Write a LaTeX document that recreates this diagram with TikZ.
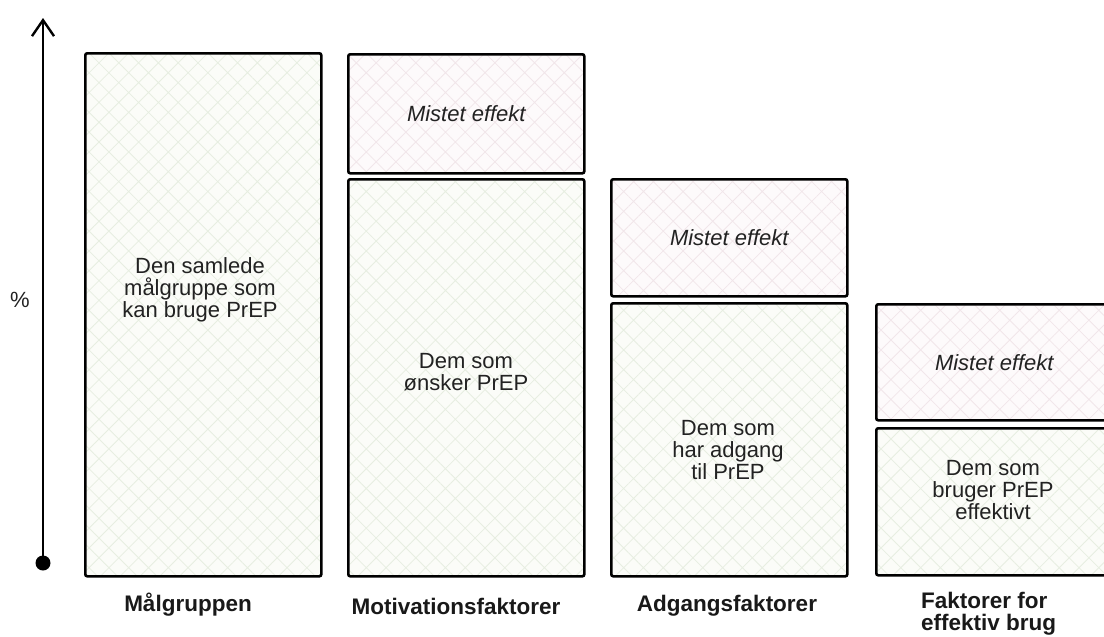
\documentclass[tikz,border=0pt]{standalone}
\usepackage{fontspec}
\setmainfont{Liberation Sans}
\usetikzlibrary{patterns.meta,arrows.meta}
\definecolor{greenbg}{HTML}{FBFCF8}
\definecolor{greenhatch}{HTML}{E7EEE1}
\definecolor{pinkbg}{HTML}{FDFAFB}
\definecolor{pinkhatch}{HTML}{F1E6EA}
\definecolor{txt}{HTML}{222222}
\begin{document}
\begin{tikzpicture}[x=1pt,y=-1pt,
  bar/.style={draw=black, line width=2.6pt, rounded corners=2pt, anchor=north west,
    minimum width=236pt, inner sep=0pt, font=\fontsize{22}{22}\selectfont, text=txt, align=center},
  keep/.style={bar, preaction={fill=greenbg},
    preaction={pattern={Hatch[angle=45,distance=14pt,line width=0.8pt]}, pattern color=greenhatch}},
  lost/.style={bar, preaction={fill=pinkbg},
    preaction={pattern={Hatch[angle=45,distance=14pt,line width=0.8pt]}, pattern color=pinkhatch},
    font=\fontsize{22}{22}\selectfont\itshape},
  inner/.style={font=\fontsize{22}{22}\selectfont, text=txt, align=center, inner sep=0pt},
  cat/.style={font=\fontsize{22.5}{22}\selectfont\bfseries, text=black!90, align=left, inner sep=0pt}
]
\useasboundingbox (0,0) rectangle (1104,637);

% axis
\coordinate (top) at (43,18);
\node[circle, fill=black, minimum size=15pt, inner sep=0pt] (dot) at (43,563) {};
\draw[line width=2.4pt, -{Straight Barb[length=16pt,width=22pt,line width=2.4pt]}] (dot.center) -- (top);
\node[font=\fontsize{22}{22}\selectfont, text=txt] (pct) at (20,300) {\%};

% column 1
\node[keep, minimum height=523pt] (b1) at (84,52) {};
\node[inner] (t1) at (200,290) {Den samlede\\målgruppe som\\kan bruge PrEP};

% column 2
\node[lost, minimum height=119pt] (l2) at (347,53) {Mistet effekt};
\node[keep, minimum height=397pt] (b2) at (347,178) {};
\node[inner] (t2) at (466,372) {Dem som\\ønsker PrEP};

% column 3
\node[lost, minimum height=117pt] (l3) at (610,178) {Mistet effekt};
\node[keep, minimum height=273pt] (b3) at (610,302) {};
\node[inner] (t3) at (728,450) {Dem som\\har adgang\\til PrEP};

% column 4
\node[lost, minimum height=116pt] (l4) at (875,303) {Mistet effekt};
\node[keep, minimum height=147pt] (b4) at (875,427) {};
\node[inner] (t4) at (993,490) {Dem som\\bruger PrEP\\effektivt};

% category labels
\node[cat] (c1) at (188,605) {Målgruppen};
\node[cat] (c2) at (456,606) {Motivationsfaktorer};
\node[cat] (c3) at (727,606) {Adgangsfaktorer};
\node[cat, anchor=north west] (c4) at (921,592) {Faktorer for\\effektiv brug};
\end{tikzpicture}
\end{document}
